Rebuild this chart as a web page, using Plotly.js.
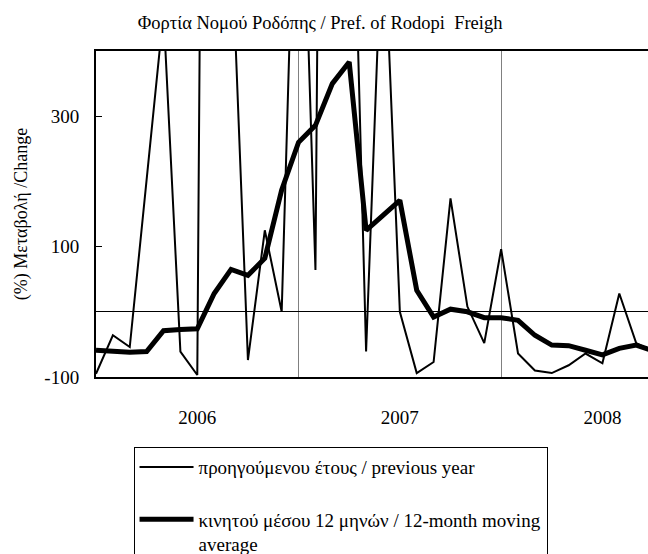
<!DOCTYPE html>
<html>
<head>
<meta charset="utf-8">
<script src="https://cdn.plot.ly/plotly-3.0.1.min.js"></script>
<style>html,body{margin:0;padding:0;background:#fff;}#chart{width:648px;height:554px;}</style>
</head>
<body>
<div id="chart"></div>
<script>
// Month index (0 = first month shown, 12 = start of 2007 gridline, 24 = start of 2008 gridline)
const months = [0,1,2,3,4,5,6,7,8,9,10,11,12,13,14,15,16,17,18,19,20,21,22,23,24,25,26,27,28,29,30,31,32,33];
// % change vs previous year (values above 400 are off the chart and only estimated)
const yoyChange = [-95,-36,-54,200,460,-61,-97,3500,590,-74,125,0,895,64,3300,920,-61,630,0,-94,-77,174,8,-48,96,-64,-90,-94,-82,-64,-79,28,-48,-61];
// 12-month moving average of % change
const movingAvg = [-59,-61,-62,-61,-29,-27,-26,28,65,56,82,187,260,286,350,383,125,148,171,33,-8,4,0,-9,-9,-13,-36,-51,-52,-59,-66,-56,-51,-60];
const yearTickVals = [6,18,30];
const yearTickText = ['2006','2007','2008'];
const yearBoundaries = [12,24];
const yTickVals = [-100,100,300];
const yTickText = ['-100','100','300'];

const serif = '"Liberation Serif", "Times New Roman", serif';
const NB = '\u00a0';

const traces = [
  {
    x: months, y: yoyChange, type: 'scatter', mode: 'lines',
    name: 'προηγούμενου έτους / previous year<br>' + NB,
    line: {color: '#000', width: 2}
  },
  {
    x: months, y: movingAvg, type: 'scatter', mode: 'lines',
    name: 'κινητού μέσου 12 μηνών / 12-month moving<br>average',
    line: {color: '#000', width: 5}
  }
];

const layout = {
  width: 648, height: 554,
  margin: {l: 96, r: 0, t: 51, b: 177, autoexpand: false},
  paper_bgcolor: '#fff', plot_bgcolor: '#fff',
  font: {family: serif, color: '#000', size: 18},
  title: {
    text: 'Φορτία Νομού Ροδόπης / Pref. of Rodopi ' + NB + 'Freigh',
    font: {family: serif, size: 18.5, color: '#000'},
    x: 0.494, xref: 'container', xanchor: 'center',
    y: 0.96, yref: 'container', yanchor: 'middle'
  },
  xaxis: {
    range: [0, 32.7],
    tickmode: 'array', tickvals: yearTickVals, ticktext: yearTickText,
    ticks: '', showgrid: false, zeroline: false,
    showline: true, linecolor: '#000', linewidth: 2, mirror: true,
    tickfont: {family: serif, size: 19, color: '#000'},
    ticklabelstandoff: 22,
    minor: {tickmode: 'array', tickvals: yearBoundaries, showgrid: true, gridcolor: '#808080', gridwidth: 1, ticks: ''}
  },
  yaxis: {
    range: [-100, 400],
    tickmode: 'array', tickvals: yTickVals, ticktext: yTickText,
    ticks: 'inside', ticklen: 6, tickwidth: 1, tickcolor: '#000',
    showgrid: false,
    zeroline: true, zerolinecolor: '#000', zerolinewidth: 1,
    showline: true, linecolor: '#000', linewidth: 2, mirror: false,
    tickfont: {family: serif, size: 19, color: '#000'},
    ticklabelstandoff: 11,
    title: {text: '(%) Μεταβολή /Change', font: {family: serif, size: 18, color: '#000'}, standoff: 12}
  },
  showlegend: true,
  legend: {
    x: 0.068, y: -0.215, xanchor: 'left', yanchor: 'top',
    bgcolor: '#fff', bordercolor: '#000', borderwidth: 1,
    font: {family: serif, size: 19, color: '#000'},
    traceorder: 'normal', valign: 'top',
    itemwidth: 54
  }
};

Plotly.newPlot('chart', traces, layout, {displayModeBar: false, staticPlot: true});
</script>
</body>
</html>
